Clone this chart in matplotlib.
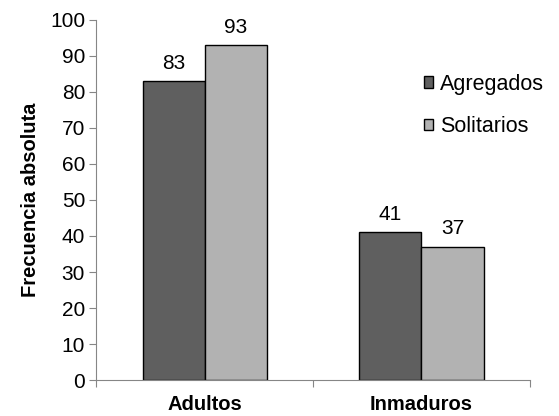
import numpy as np
import matplotlib
matplotlib.use('Agg')
import matplotlib.pyplot as plt

plt.rcParams['font.family'] = ['Liberation Sans', 'DejaVu Sans']

categorias = ['Adultos', 'Inmaduros']
agregados = [83, 41]
solitarios = [93, 37]

fig = plt.figure(figsize=(5.59, 4.16), dpi=100)
ax = fig.add_axes([0.172, 0.0865, 0.776, 0.8655])

x = np.arange(len(categorias))
w = 0.286
b1 = ax.bar(x - w/2, agregados, w, color='#5f5f5f', edgecolor='black', linewidth=1, label='Agregados')
b2 = ax.bar(x + w/2, solitarios, w, color='#b2b2b2', edgecolor='black', linewidth=1, label='Solitarios')

# etiquetas de valores
for barras in (b1, b2):
    for r in barras:
        ax.annotate(str(int(r.get_height())), (r.get_x() + r.get_width()/2, r.get_height()),
                    xytext=(0, 6), textcoords='offset points', ha='center', va='bottom', fontsize=15)

ax.set_xlim(-0.5, 1.5)
ax.set_ylim(0, 100)
ax.set_yticks(range(0, 101, 10))
ax.tick_params(axis='y', labelsize=15, length=5, color='#868686', pad=3)

# ticks del eje x en los limites de categoria
ax.set_xticks([-0.5, 0.5, 1.5])
ax.set_xticklabels([])
ax.set_xticks(x, minor=True)
ax.set_xticklabels(categorias, minor=True, fontsize=14.5, fontweight='bold')
ax.tick_params(axis='x', which='major', length=5, color='#868686')
ax.tick_params(axis='x', which='minor', length=0, pad=11)

for s in ['top', 'right']:
    ax.spines[s].set_visible(False)
for s in ['left', 'bottom']:
    ax.spines[s].set_color('#868686')

ax.set_ylabel('Frecuencia absoluta', fontsize=14.5, fontweight='bold', labelpad=7)

ax.legend(loc='upper left', bbox_to_anchor=(0.735, 0.875), frameon=False, fontsize=15.5,
          handlelength=0.45, handleheight=0.45, handletextpad=0.3, labelspacing=1.0, borderaxespad=0)

fig.savefig('out.png', dpi=100)
